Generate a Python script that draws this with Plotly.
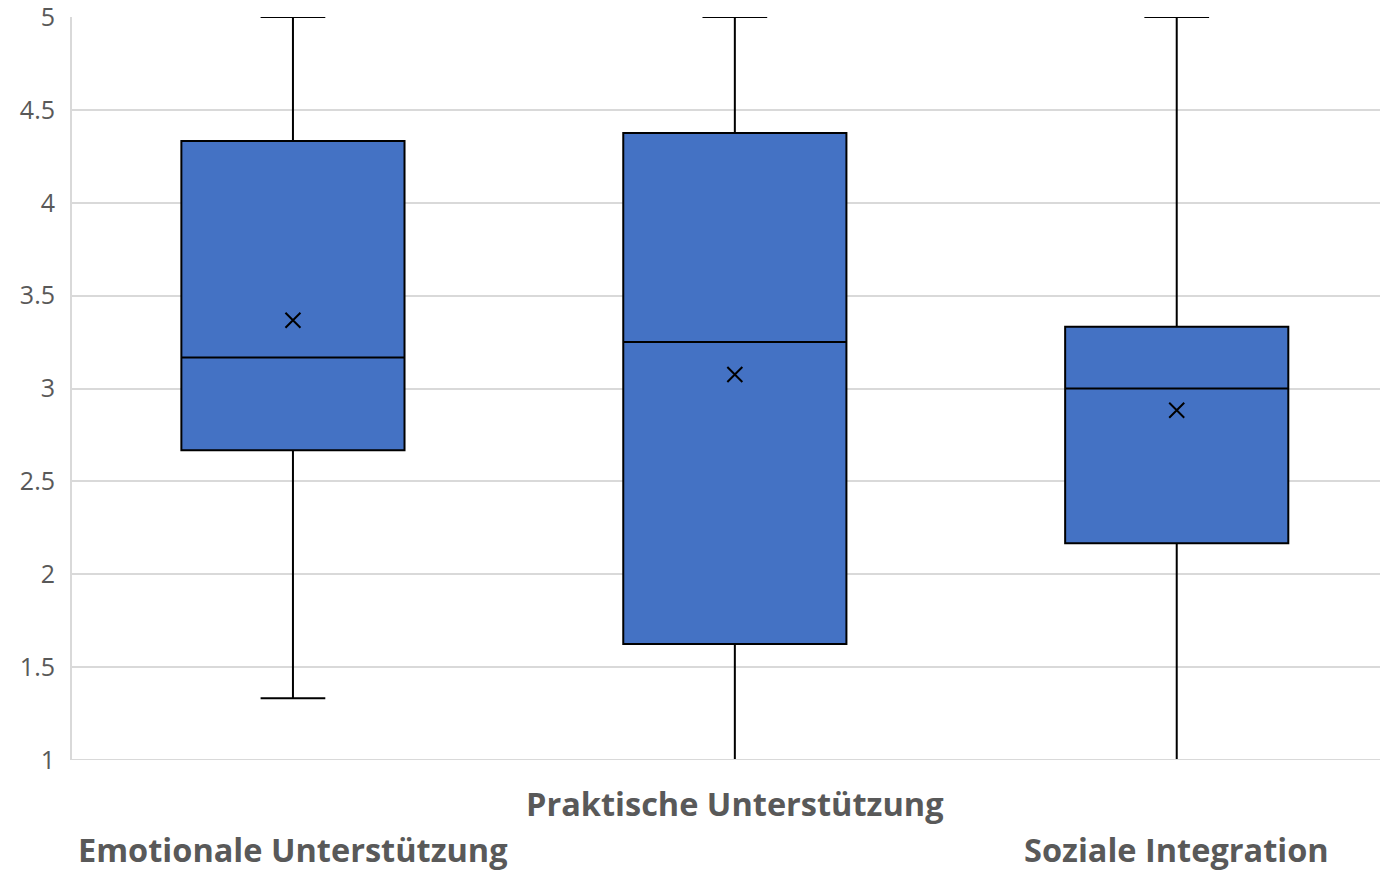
import plotly.graph_objects as go

# Summary statistics per support dimension
categories = ["Emotionale Unterstützung", "Praktische Unterstützung", "Soziale Integration"]
lower_whisker = [1.333, 1.0, 1.0]
q1 = [2.667, 1.625, 2.167]
median = [3.167, 3.25, 3.0]
q3 = [4.333, 4.375, 3.333]
upper_whisker = [5.0, 5.0, 5.0]
means = [3.367, 3.075, 2.883]

y_ticks = [1, 1.5, 2, 2.5, 3, 3.5, 4, 4.5, 5]
y_tick_text = ["1", "1.5", "2", "2.5", "3", "3.5", "4", "4.5", "5"]

# Row offsets for staggered category labels (1 = lower row)
label_rows = [1, 0, 1]

xpos = list(range(len(categories)))

fig = go.Figure()
fig.add_trace(go.Box(
    x=xpos,
    q1=q1, median=median, q3=q3,
    lowerfence=lower_whisker, upperfence=upper_whisker,
    fillcolor="#4472C4",
    line=dict(color="#000000", width=2),
    width=0.505,
    whiskerwidth=0.29,
    boxpoints=False,
    hoverinfo="skip",
    showlegend=False,
))
fig.add_trace(go.Scatter(
    x=xpos, y=means, mode="markers",
    marker=dict(symbol="x-thin-open", size=15, color="#000000",
                line=dict(color="#000000", width=2)),
    showlegend=False, hoverinfo="skip",
))

gray = "#595959"
for i, (cat, row) in enumerate(zip(categories, label_rows)):
    fig.add_annotation(
        x=i, xref="x", y=-0.058 - row * 0.062, yref="paper",
        text=f"<b>{cat}</b>", showarrow=False,
        font=dict(family="Open Sans", size=32.5, color=gray),
        xanchor="center", yanchor="middle",
    )

# Baseline drawn over the whisker caps at the bottom of the scale
fig.add_shape(
    type="line", xref="paper", yref="y", x0=0, x1=1, y0=1, y1=1,
    line=dict(color="#D9D9D9", width=2), layer="above",
)

fig.update_layout(
    width=1380, height=873,
    margin=dict(l=72, r=0, t=17, b=113),
    plot_bgcolor="#FFFFFF", paper_bgcolor="#FFFFFF",
    font=dict(family="Open Sans", color=gray),
)
fig.update_xaxes(
    range=[-0.5, 2.46], showticklabels=False, showgrid=False, zeroline=False,
    showline=False, automargin=False,
)
fig.update_yaxes(
    range=[1, 5], tickvals=y_ticks, ticktext=y_tick_text,
    showgrid=True, gridcolor="#D9D9D9", gridwidth=2, zeroline=False,
    showline=True, linecolor="#D9D9D9", linewidth=2, automargin=False,
    tickfont=dict(family="Open Sans", size=25, color=gray),
    ticks="", ticklabelstandoff=10, ticklabeloverflow="allow",
)

fig.write_html("out.html")
